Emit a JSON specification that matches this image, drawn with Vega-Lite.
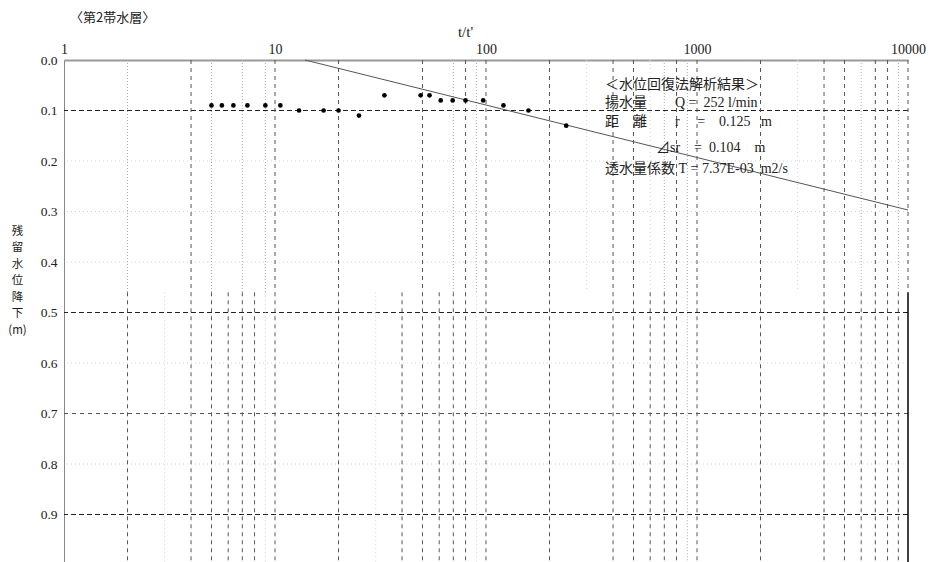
{
  "$schema": "https://vega.github.io/schema/vega-lite/v6.json",
  "width": 844,
  "height": 505,
  "autosize": {"type": "none"},
  "padding": {"left": 64, "top": 60, "right": 25, "bottom": 0},
  "background": "white",
  "config": {"view": {"stroke": null}, "font": "Liberation Serif"},
  "title": {
    "text": "〈第2帯水層〉",
    "anchor": "start",
    "frame": "group",
    "font": "Noto Sans CJK JP",
    "fontSize": 13,
    "fontWeight": "normal",
    "color": "#222",
    "dx": 6,
    "dy": 5,
    "offset": 4
  },
  "datasets": {
    "hgrid": [
      {"s": 0.1, "k": "major"},
      {"s": 0.2, "k": "faint"},
      {"s": 0.3, "k": "faint"},
      {"s": 0.4, "k": "faint"},
      {"s": 0.5, "k": "major"},
      {"s": 0.6, "k": "faint"},
      {"s": 0.7, "k": "dash"},
      {"s": 0.8, "k": "faint"},
      {"s": 0.9, "k": "major"}
    ],
    "vgrid": [
      {"t": 2, "seg": "u", "k": "dot"},
      {"t": 4, "seg": "u", "k": "dash"},
      {"t": 5, "seg": "u", "k": "dot"},
      {"t": 7, "seg": "u", "k": "dot"},
      {"t": 9, "seg": "u", "k": "dot"},
      {"t": 10, "seg": "u", "k": "dash"},
      {"t": 20, "seg": "u", "k": "dash"},
      {"t": 50, "seg": "u", "k": "dash"},
      {"t": 70, "seg": "u", "k": "dot"},
      {"t": 80, "seg": "u", "k": "dash"},
      {"t": 90, "seg": "u", "k": "dot"},
      {"t": 100, "seg": "u", "k": "dash"},
      {"t": 200, "seg": "u", "k": "dash"},
      {"t": 300, "seg": "u", "k": "faint"},
      {"t": 400, "seg": "u", "k": "dash"},
      {"t": 500, "seg": "u", "k": "dash"},
      {"t": 600, "seg": "u", "k": "faint"},
      {"t": 700, "seg": "u", "k": "dot"},
      {"t": 800, "seg": "u", "k": "dash"},
      {"t": 900, "seg": "u", "k": "dot"},
      {"t": 1000, "seg": "u", "k": "dash"},
      {"t": 2000, "seg": "u", "k": "dash"},
      {"t": 3000, "seg": "u", "k": "faint"},
      {"t": 4000, "seg": "u", "k": "dash"},
      {"t": 5000, "seg": "u", "k": "dash"},
      {"t": 6000, "seg": "u", "k": "dot"},
      {"t": 7000, "seg": "u", "k": "dash"},
      {"t": 8000, "seg": "u", "k": "dash"},
      {"t": 9000, "seg": "u", "k": "dot"},
      {"t": 10000, "seg": "u", "k": "dash"},
      {"t": 2, "seg": "l", "k": "dash"},
      {"t": 3, "seg": "l", "k": "faint"},
      {"t": 4, "seg": "l", "k": "dash"},
      {"t": 5, "seg": "l", "k": "dash"},
      {"t": 6, "seg": "l", "k": "dash"},
      {"t": 7, "seg": "l", "k": "dash"},
      {"t": 8, "seg": "l", "k": "dash"},
      {"t": 9, "seg": "l", "k": "faint"},
      {"t": 10, "seg": "l", "k": "dash"},
      {"t": 20, "seg": "l", "k": "dash"},
      {"t": 30, "seg": "l", "k": "faint"},
      {"t": 40, "seg": "l", "k": "dash"},
      {"t": 50, "seg": "l", "k": "dash"},
      {"t": 60, "seg": "l", "k": "dash"},
      {"t": 70, "seg": "l", "k": "dash"},
      {"t": 80, "seg": "l", "k": "dash"},
      {"t": 90, "seg": "l", "k": "faint"},
      {"t": 100, "seg": "l", "k": "dash"},
      {"t": 200, "seg": "l", "k": "dash"},
      {"t": 400, "seg": "l", "k": "dash"},
      {"t": 500, "seg": "l", "k": "dash"},
      {"t": 600, "seg": "l", "k": "dash"},
      {"t": 700, "seg": "l", "k": "dash"},
      {"t": 800, "seg": "l", "k": "dash"},
      {"t": 900, "seg": "l", "k": "dot"},
      {"t": 1000, "seg": "l", "k": "dash"},
      {"t": 2000, "seg": "l", "k": "dash"},
      {"t": 4000, "seg": "l", "k": "dash"},
      {"t": 5000, "seg": "l", "k": "dash"},
      {"t": 6000, "seg": "l", "k": "dash"},
      {"t": 7000, "seg": "l", "k": "dash"},
      {"t": 8000, "seg": "l", "k": "dash"},
      {"t": 9000, "seg": "l", "k": "dash"}
    ],
    "pts": [
      {"t": 5.0, "s": 0.09},
      {"t": 5.6, "s": 0.09},
      {"t": 6.35, "s": 0.09},
      {"t": 7.4, "s": 0.09},
      {"t": 9.0, "s": 0.09},
      {"t": 10.6, "s": 0.09},
      {"t": 13.0, "s": 0.10},
      {"t": 17.0, "s": 0.10},
      {"t": 20.0, "s": 0.10},
      {"t": 25.0, "s": 0.11},
      {"t": 33.0, "s": 0.07},
      {"t": 49.0, "s": 0.07},
      {"t": 54.0, "s": 0.07},
      {"t": 61.0, "s": 0.08},
      {"t": 69.5, "s": 0.08},
      {"t": 80.0, "s": 0.08},
      {"t": 97.0, "s": 0.08},
      {"t": 121.0, "s": 0.09},
      {"t": 159.0, "s": 0.10},
      {"t": 240.0, "s": 0.13}
    ],
    "fit": [
      {"t": 13.87, "s": 0.0},
      {"t": 10000, "s": 0.297}
    ],
    "notes": [
      {"t": 366.4, "s": 0.0495, "label": "＜水位回復法解析結果＞"},
      {"t": 366.4, "s": 0.085, "label": "揚水量　　Q\u00a0=\u00a0\u00a0252\u00a0l/min"},
      {"t": 366.4, "s": 0.123, "label": "距　離　　r\u00a0\u00a0\u00a0\u00a0\u00a0=\u00a0\u00a0\u00a0\u00a00.125\u00a0\u00a0\u00a0m"},
      {"t": 639.0, "s": 0.174, "label": "⊿sr\u00a0\u00a0\u00a0\u00a0=\u00a0\u00a00.104\u00a0\u00a0\u00a0\u00a0m"},
      {"t": 366.4, "s": 0.216, "label": "透水量係数\u00a0T\u00a0=\u00a07.37E-03\u00a0\u00a0m2/s"}
    ]
  },
  "layer": [
    {
      "data": {"name": "hgrid"},
      "mark": {"type": "rule", "strokeWidth": 1},
      "encoding": {
        "y": {
          "field": "s",
          "type": "quantitative",
          "scale": {"domain": [0, 1], "reverse": true, "nice": false, "zero": false},
          "axis": {
            "orient": "left",
            "values": [0, 0.1, 0.2, 0.3, 0.4, 0.5, 0.6, 0.7, 0.8, 0.9],
            "format": ".1f",
            "grid": false,
            "ticks": false,
            "tickSize": 0,
            "domainColor": "#888",
            "domainWidth": 1,
            "labelFont": "Liberation Serif",
            "labelFontSize": 13.5,
            "labelColor": "#222",
            "labelPadding": 7,
            "title": ["残", "留", "水", "位", "降", "下", "(m)"],
            "titleAngle": 0,
            "titleAlign": "center",
            "titleBaseline": "top",
            "titleX": -47,
            "titleY": 165,
            "titleFont": "Noto Sans CJK JP",
            "titleFontSize": 11.5,
            "titleFontWeight": "normal",
            "titleLineHeight": 16.5,
            "titleColor": "#222"
          }
        },
        "color": {
          "field": "k",
          "type": "nominal",
          "scale": {"domain": ["major", "dash", "dot", "faint"], "range": ["#222", "#555", "#aaa", "#d4d4d4"]},
          "legend": null
        },
        "strokeDash": {
          "field": "k",
          "type": "nominal",
          "scale": {"domain": ["major", "dash", "dot", "faint"], "range": [[5, 3], [4, 4], [1, 2], [1, 3]]},
          "legend": null
        }
      }
    },
    {
      "data": {"name": "vgrid"},
      "transform": [{"filter": "datum.seg === 'u'"}],
      "mark": {"type": "rule", "strokeWidth": 1},
      "encoding": {
        "x": {
          "field": "t",
          "type": "quantitative",
          "scale": {"type": "log", "domain": [1, 10000], "nice": false},
          "axis": {
            "orient": "top",
            "values": [1, 10, 100, 1000, 10000],
            "format": "d",
            "grid": false,
            "ticks": false,
            "tickSize": 0,
            "domainColor": "#999",
            "domainWidth": 2,
            "labelFont": "Liberation Serif",
            "labelFontSize": 14,
            "labelColor": "#222",
            "labelPadding": 4,
            "labelAlign": "center",
            "labelFlush": false,
            "labelBound": false,
            "labelOverlap": false,
            "title": "t/t'",
            "titleFont": "Liberation Serif",
            "titleFontSize": 15,
            "titleFontWeight": "normal",
            "titleColor": "#222",
            "titleX": 401,
            "titleY": -24,
            "titleBaseline": "alphabetic"
          }
        },
        "y": {"datum": 0},
        "y2": {"datum": 0.46},
        "color": {"field": "k", "type": "nominal", "legend": null},
        "strokeDash": {"field": "k", "type": "nominal", "legend": null}
      }
    },
    {
      "data": {"name": "vgrid"},
      "transform": [{"filter": "datum.seg === 'l'"}],
      "mark": {"type": "rule", "strokeWidth": 1},
      "encoding": {
        "x": {"field": "t", "type": "quantitative"},
        "y": {"datum": 0.46},
        "y2": {"datum": 1},
        "color": {"field": "k", "type": "nominal", "legend": null},
        "strokeDash": {"field": "k", "type": "nominal", "legend": null}
      }
    },
    {
      "data": {"values": [{}]},
      "mark": {"type": "rule", "color": "#000", "strokeWidth": 1.5},
      "encoding": {
        "x": {"datum": 10000},
        "y": {"datum": 0.46},
        "y2": {"datum": 1}
      }
    },
    {
      "data": {"name": "fit"},
      "mark": {"type": "line", "color": "#555", "strokeWidth": 1},
      "encoding": {
        "x": {"field": "t", "type": "quantitative"},
        "y": {"field": "s", "type": "quantitative"}
      }
    },
    {
      "data": {"name": "pts"},
      "mark": {"type": "point", "filled": true, "color": "#000", "opacity": 1, "size": 22},
      "encoding": {
        "x": {"field": "t", "type": "quantitative"},
        "y": {"field": "s", "type": "quantitative"}
      }
    },
    {
      "data": {"name": "notes"},
      "mark": {
        "type": "text",
        "align": "left",
        "baseline": "middle",
        "font": "Liberation Serif, Noto Sans CJK JP, DejaVu Sans",
        "fontSize": 14,
        "color": "#222"
      },
      "encoding": {
        "x": {"field": "t", "type": "quantitative"},
        "y": {"field": "s", "type": "quantitative"},
        "text": {"field": "label"}
      }
    }
  ]
}
